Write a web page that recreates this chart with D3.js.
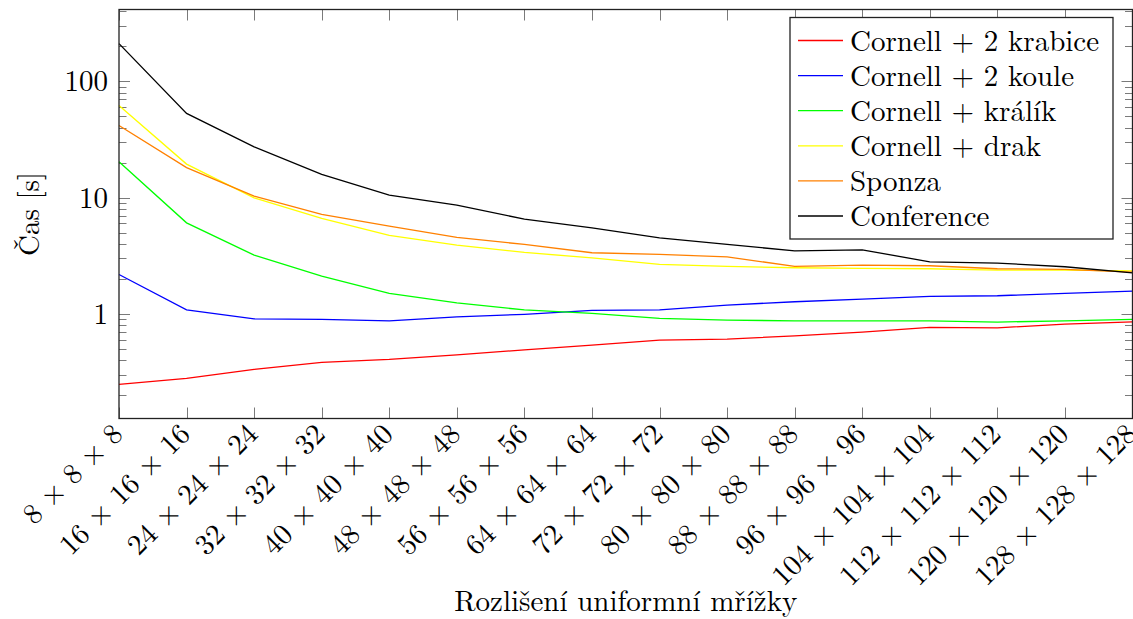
<!DOCTYPE html>
<html>
<head>
<meta charset="utf-8">
<script src="https://cdn.jsdelivr.net/npm/d3@7"></script>
<style>
  body { margin: 0; background: #fff; }
  svg text { font-family: "Latin Modern Roman", "CMU Serif", "Liberation Serif", serif; fill: #000; }
</style>
</head>
<body>
<svg id="chart" width="1133" height="619"></svg>
<script>
// grid resolutions (x axis)
var resolutions = [8, 16, 24, 32, 40, 48, 56, 64, 72, 80, 88, 96, 104, 112, 120, 128];

// render times in seconds, one per resolution
var krabice    = [0.247, 0.278, 0.333, 0.382, 0.405, 0.444, 0.49, 0.538, 0.594, 0.606, 0.647, 0.696, 0.764, 0.758, 0.815, 0.853];
var koule      = [2.18, 1.08, 0.906, 0.895, 0.87, 0.94, 0.99, 1.07, 1.08, 1.19, 1.27, 1.34, 1.41, 1.43, 1.5, 1.57];
var kralik     = [20.3, 6.06, 3.2, 2.11, 1.5, 1.24, 1.08, 1.01, 0.913, 0.883, 0.87, 0.87, 0.87, 0.849, 0.87, 0.895];
var drak       = [62.0, 19.4, 9.94, 6.61, 4.72, 3.9, 3.37, 3.03, 2.66, 2.56, 2.49, 2.46, 2.44, 2.38, 2.38, 2.34];
var sponza     = [41.7, 18.1, 10.3, 7.16, 5.68, 4.54, 3.95, 3.35, 3.24, 3.09, 2.56, 2.62, 2.59, 2.44, 2.41, 2.28];
var conference = [211, 52.9, 27.3, 15.8, 10.5, 8.6, 6.52, 5.49, 4.5, 3.95, 3.48, 3.55, 2.8, 2.73, 2.54, 2.25];

var seriesNames  = ["Cornell + 2 krabice", "Cornell + 2 koule", "Cornell + králík", "Cornell + drak", "Sponza", "Conference"];
var seriesValues = [krabice, koule, kralik, drak, sponza, conference];
var seriesColors = ["#ff0000", "#0000ff", "#00ff00", "#ffff00", "#ff8000", "#000000"];

var yTicks = [1, 10, 100];
var xTitle = "Rozlišení uniformní mřížky";
var yTitle = "Čas [s]";

var pLeft = 119, pRight = 1132.5, pTop = 9.5, pBottom = 418.5;
var fontSize = "29px";
var svg = d3.select("#chart");

var x = d3.scaleLinear()
    .domain([d3.min(resolutions), d3.max(resolutions)])
    .range([pLeft, pRight]);

// log axis padded like pgfplots (10% of the data range on each side)
var all = d3.merge(seriesValues);
var lo = Math.log10(d3.min(all)), hi = Math.log10(d3.max(all));
var pad = (hi - lo) * 0.1;
var y = d3.scaleLog()
    .domain([Math.pow(10, lo - pad), Math.pow(10, hi + pad)])
    .range([pBottom, pTop]);

// minor ticks 2..9 of every decade inside the domain
var minorTicks = [];
for (var e = -2; e <= 3; e++) {
    for (var m = 2; m <= 9; m++) {
        var v = m * Math.pow(10, e);
        if (v > y.domain()[0] && v < y.domain()[1]) minorTicks.push(v);
    }
}

function yy(d) { return Math.round(y(d)) + 0.5; }
function xx(d) { return Math.round(x(d)) + 0.5; }

var ticks = svg.append("g").attr("stroke", "#7a7a7a").attr("stroke-width", 1);

ticks.selectAll("line.minl").data(minorTicks).enter().append("line")
    .attr("x1", pLeft).attr("x2", pLeft + 7.5)
    .attr("y1", yy).attr("y2", yy);
ticks.selectAll("line.minr").data(minorTicks).enter().append("line")
    .attr("x1", pRight).attr("x2", pRight - 7.5)
    .attr("y1", yy).attr("y2", yy);
ticks.selectAll("line.majl").data(yTicks).enter().append("line")
    .attr("x1", pLeft).attr("x2", pLeft + 11)
    .attr("y1", yy).attr("y2", yy);
ticks.selectAll("line.majr").data(yTicks).enter().append("line")
    .attr("x1", pRight).attr("x2", pRight - 11)
    .attr("y1", yy).attr("y2", yy);
ticks.selectAll("line.xb").data(resolutions).enter().append("line")
    .attr("x1", xx).attr("x2", xx)
    .attr("y1", pBottom).attr("y2", pBottom - 11);
ticks.selectAll("line.xt").data(resolutions).enter().append("line")
    .attr("x1", xx).attr("x2", xx)
    .attr("y1", pTop).attr("y2", pTop + 11);

// series lines
var line = d3.line()
    .x(function(d, i) { return x(resolutions[i]); })
    .y(function(d) { return y(d); });

svg.append("g").selectAll("path").data(seriesValues).enter().append("path")
    .attr("d", line)
    .attr("fill", "none")
    .attr("stroke", function(d, i) { return seriesColors[i]; })
    .attr("stroke-width", 1.3);

// frame
svg.append("rect")
    .attr("x", pLeft).attr("y", pTop)
    .attr("width", pRight - pLeft).attr("height", pBottom - pTop)
    .attr("fill", "none").attr("stroke", "#222").attr("stroke-width", 1.3);

// y tick labels
svg.selectAll("text.ylab").data(yTicks).enter().append("text")
    .attr("x", 108)
    .attr("y", function(d) { return y(d); })
    .attr("dy", "0.35em")
    .attr("text-anchor", "end")
    .style("font-size", fontSize)
    .text(function(d) { return d; });

// x tick labels, rotated 45 degrees
svg.selectAll("text.xlab").data(resolutions).enter().append("text")
    .attr("transform", function(d) { return "translate(" + (x(d) - 2) + "," + (pBottom + 10) + ") rotate(-45)"; })
    .attr("text-anchor", "end")
    .attr("dy", "0.35em")
    .style("font-size", fontSize)
    .text(function(d) { return d + " × " + d + " × " + d; });

// axis titles
svg.append("text")
    .attr("x", (pLeft + pRight) / 2).attr("y", 611)
    .attr("text-anchor", "middle")
    .style("font-size", fontSize)
    .text(xTitle);

svg.append("text")
    .attr("transform", "translate(39," + ((pTop + pBottom) / 2) + ") rotate(-90)")
    .attr("text-anchor", "middle")
    .style("font-size", fontSize)
    .text(yTitle);

// legend
var legend = svg.append("g");
legend.append("rect")
    .attr("x", 790).attr("y", 17.5)
    .attr("width", 323).attr("height", 221.5)
    .attr("fill", "#fff").attr("stroke", "#222").attr("stroke-width", 1.3);

var items = legend.selectAll("g.item").data(seriesNames).enter().append("g")
    .attr("transform", function(d, i) { return "translate(0," + (40.5 + i * 35.1) + ")"; });
items.append("line")
    .attr("x1", 798).attr("x2", 843)
    .attr("stroke", function(d, i) { return seriesColors[i]; })
    .attr("stroke-width", 1.3);
items.append("text")
    .attr("x", 850).attr("dy", "0.35em")
    .style("font-size", fontSize)
    .text(function(d) { return d; });
</script>
</body>
</html>
